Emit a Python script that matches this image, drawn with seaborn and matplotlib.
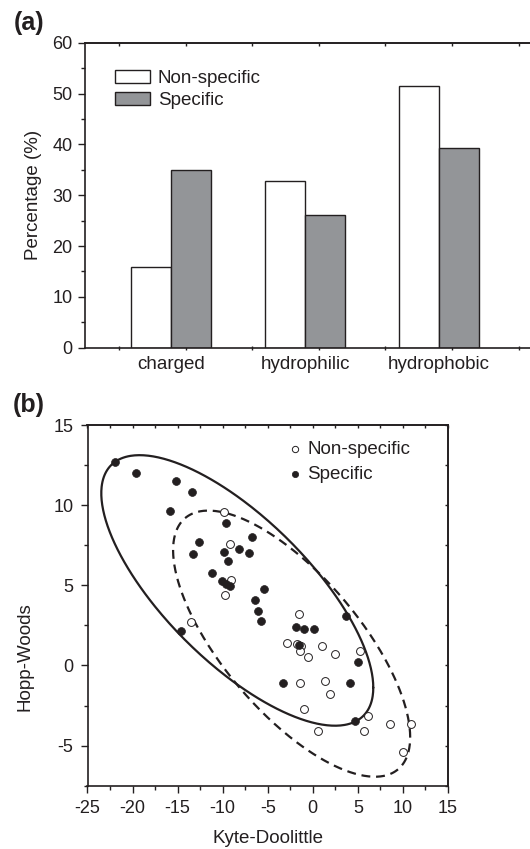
import numpy as np
import pandas as pd
import matplotlib
matplotlib.use("Agg")
import matplotlib.pyplot as plt
import seaborn as sns
from matplotlib.ticker import MultipleLocator, FixedLocator

# ---------------- data ----------------
categories = ["charged", "hydrophilic", "hydrophobic"]
nonspecific_pct = [15.9, 32.7, 51.5]
specific_pct = [34.9, 26.2, 39.2]

nonspec_kd = [-9.9, -9.2, -9.05, -9.72, -13.49, -1.58, -2.91, -1.8, -1.36, -1.47,
              0.97, 2.41, -0.5, 5.19, -1.39, 1.3, 1.9, -1.03, 6.08, 0.57,
              5.71, 8.52, 10.89, 10.04]
nonspec_hw = [9.6, 7.58, 5.32, 4.42, 2.70, 3.22, 1.43, 1.33, 1.22, 0.91,
              1.22, 0.70, 0.54, 0.91, -1.08, -0.98, -1.79, -2.69, -3.16, -4.08,
              -4.08, -3.68, -3.68, -5.37]

spec_kd = [-22.0, -19.67, -15.16, -13.38, -15.9, -9.6, -6.75, -12.6, -8.16, -13.27,
           -9.83, -7.09, -9.38, -11.19, -10.13, -9.64, -9.2, -5.42, -6.42, -6.09,
           -5.8, -14.63, 3.71, -1.87, -1.03, 0.13, -1.58, 4.97, -3.31, 4.08, 4.71]
spec_hw = [12.67, 11.99, 11.49, 10.8, 9.62, 8.89, 8.02, 7.69, 7.29, 6.98,
           7.08, 7.0, 6.5, 5.79, 5.29, 5.09, 4.98, 4.8, 4.09, 3.4,
           2.8, 2.14, 3.11, 2.41, 2.3, 2.3, 1.3, 0.22, -1.08, -1.08, -3.47]

# ellipses: centre and shape matrix
spec_ellipse_center = [-8.38, 4.68]
spec_ellipse_shape = [[227.7, -91.5], [-91.5, 71.2]]
nonspec_ellipse_center = [-2.35, 1.36]
nonspec_ellipse_shape = [[173.0, -76.7], [-76.7, 68.9]]

# ---------------- style ----------------
sns.set_theme(style="ticks")
plt.rcParams["font.family"] = ["Liberation Sans", "DejaVu Sans"]
plt.rcParams["axes.unicode_minus"] = False
plt.rcParams["axes.linewidth"] = 1.2
ink = "#231f20"
plt.rcParams["text.color"] = ink
plt.rcParams["axes.labelcolor"] = ink
plt.rcParams["xtick.color"] = ink
plt.rcParams["ytick.color"] = ink
plt.rcParams["axes.edgecolor"] = ink

TICK_FS = 13
LABEL_FS = 13.5

W, H = 530, 849
fig = plt.figure(figsize=(W / 100, H / 100), dpi=100)

def frac(x0, y0, x1, y1):
    return [x0 / W, 1 - y1 / H, (x1 - x0) / W, (y1 - y0) / H]

# ---------------- panel (a) ----------------
axa = fig.add_axes(frac(85, 42.7, 530, 347.7))
df = pd.DataFrame({
    "category": categories * 2,
    "pct": nonspecific_pct + specific_pct,
    "group": ["Non-specific"] * 3 + ["Specific"] * 3,
})
sns.barplot(data=df, x="category", y="pct", hue="group", ax=axa,
            palette={"Non-specific": "white", "Specific": "#939598"},
            width=0.596, edgecolor=ink, linewidth=1.0, saturation=1,
            errorbar=None)
axa.set_xlim(-0.641, 2.678)
axa.set_ylim(0, 60)
minor_a = [-0.388, 0.109, 0.606, 1.103, 1.6, 2.097, 2.594]
axa.yaxis.set_major_locator(MultipleLocator(10))
axa.yaxis.set_minor_locator(MultipleLocator(5))
axa.xaxis.set_minor_locator(FixedLocator(minor_a))
axa.tick_params(axis="y", which="major", length=5, width=1, labelsize=TICK_FS, pad=4)
axa.tick_params(axis="y", which="minor", length=3, width=1)
axa.tick_params(axis="x", which="major", length=0, labelsize=LABEL_FS, pad=6)
axa.tick_params(axis="x", which="minor", length=3, width=1, direction="inout")
axa.set_xlabel("")
axa.set_ylabel("Percentage (%)", fontsize=LABEL_FS)
axa.yaxis.set_label_coords(-0.097, 0.5)
axa.spines["right"].set_visible(False)
sec = axa.secondary_xaxis("top")
sec.xaxis.set_major_locator(FixedLocator(minor_a))
sec.tick_params(axis="x", direction="in", length=2.5, width=1, labeltop=False)
sec.spines["top"].set_linewidth(1.2)
leg = axa.legend(loc="upper left", bbox_to_anchor=(0.067, 0.912), frameon=False,
                 fontsize=LABEL_FS, handlelength=1.85, handleheight=0.7,
                 handletextpad=0.45, labelspacing=0.28, borderpad=0, borderaxespad=0)
for p in leg.get_patches():
    p.set_edgecolor(ink)
    p.set_linewidth(1.0)

fig.text(29 / W, 1 - 23 / H, "(a)", fontsize=18, fontweight="bold",
         ha="center", va="center")

# ---------------- panel (b) ----------------
axb = fig.add_axes(frac(87.5, 425, 448, 785.7))
sns.scatterplot(x=nonspec_kd, y=nonspec_hw, ax=axb, marker="o", s=32,
                facecolor="white", edgecolor=ink, linewidth=0.7,
                label="Non-specific", zorder=3)
sns.scatterplot(x=spec_kd, y=spec_hw, ax=axb, marker="o", s=32,
                color=ink, edgecolor=ink, linewidth=0.5,
                label="Specific", zorder=4)

t = np.linspace(0, 2 * np.pi, 400)
circ = np.vstack([np.cos(t), np.sin(t)])
for c, m, ls in [(spec_ellipse_center, spec_ellipse_shape, "-"),
                 (nonspec_ellipse_center, nonspec_ellipse_shape, (0, (4, 2.6)))]:
    L = np.linalg.cholesky(np.array(m))
    pts = np.array(c)[:, None] + L @ circ
    axb.plot(pts[0], pts[1], color=ink, lw=1.6, ls=ls, zorder=2)

axb.set_xlim(-25, 15)
axb.set_ylim(-7.5, 15)
axb.xaxis.set_major_locator(MultipleLocator(5))
axb.xaxis.set_minor_locator(MultipleLocator(2.5))
axb.yaxis.set_major_locator(MultipleLocator(5))
axb.yaxis.set_minor_locator(MultipleLocator(2.5))
axb.tick_params(which="major", length=5, width=1, labelsize=TICK_FS)
axb.tick_params(axis="x", which="major", pad=5)
axb.tick_params(axis="y", which="major", pad=5)
axb.tick_params(which="minor", length=3, width=1)
axb.set_xlabel("Kyte-Doolittle", fontsize=LABEL_FS)
axb.set_ylabel("Hopp-Woods", fontsize=LABEL_FS)
axb.xaxis.set_label_coords(0.5, -0.123)
axb.yaxis.set_label_coords(-0.151, 0.358)
secx = axb.secondary_xaxis("top")
secx.xaxis.set_major_locator(MultipleLocator(2.5))
secx.tick_params(axis="x", direction="in", length=2.5, width=1, labeltop=False)
secy = axb.secondary_yaxis("right")
secy.yaxis.set_major_locator(MultipleLocator(2.5))
secy.tick_params(axis="y", direction="in", length=2.5, width=1, labelright=False)

legb = axb.legend(loc="upper left", bbox_to_anchor=(0.56, 0.957), frameon=False,
                  fontsize=LABEL_FS, handlelength=0.6, handletextpad=0.35,
                  labelspacing=0.42, borderpad=0, borderaxespad=0, markerscale=0.8)

fig.text(29 / W, 1 - 405 / H, "(b)", fontsize=18, fontweight="bold",
         ha="center", va="center")

fig.savefig("out.png", dpi=100)
